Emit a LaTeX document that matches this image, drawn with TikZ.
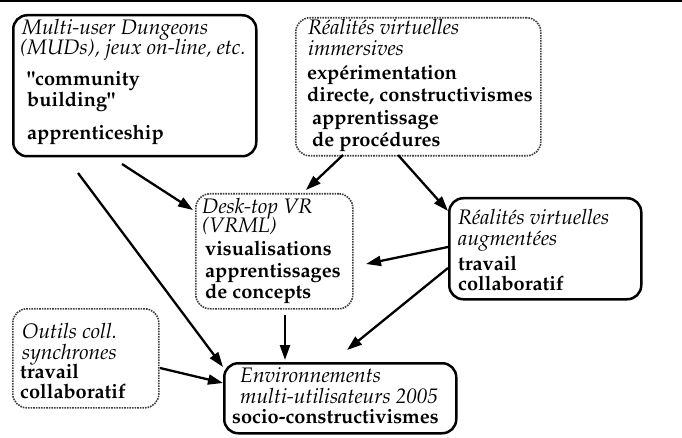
\documentclass[tikz,border=0pt]{standalone}
\usepackage[T1]{fontenc}
\usepackage{mathpazo}
\usetikzlibrary{arrows.meta}
\begin{document}
\begin{tikzpicture}[x=1pt,y=-1pt,
 solidbox/.style={draw, line width=2.5pt, rounded corners=14pt, anchor=north west, inner sep=0pt},
 dotbox/.style={draw=black!75, line width=1.6pt, densely dotted, rounded corners=14pt, anchor=north west, inner sep=0pt},
 ti/.style={anchor=base west, inner sep=0pt, font=\fontsize{21}{24}\selectfont\itshape},
 bo/.style={anchor=base west, inner sep=0pt, font=\fontsize{20}{24}\selectfont\bfseries},
 conn/.style={line width=2.3pt, -{Triangle[length=15pt,width=10pt]}}
]
\useasboundingbox (0,0) rectangle (682,438);
\coordinate (tl) at (0,1);
\coordinate (tr) at (682,1);
\draw[line width=2pt] (tl) -- (tr);

% boxes
\node[solidbox, minimum width=243pt, minimum height=141pt] (mud) at (12,14) {};
\node[dotbox, minimum width=245pt, minimum height=138pt] (imm) at (295,17) {};
\node[dotbox, minimum width=157pt, minimum height=115pt] (desk) at (195,193) {};
\node[solidbox, minimum width=192pt, minimum height=101pt] (aug) at (448,197) {};
\node[dotbox, minimum width=146pt, minimum height=99pt] (outil) at (12,308) {};
\node[solidbox, minimum width=232pt, minimum height=70pt] (env) at (223,362) {};

% texts
\node[ti] (m1) at (22,35) {Multi-user Dungeons};
\node[ti] (m2) at (20,55) {(MUDs), jeux on-line, etc.};
\node[bo] (m3) at (27,86) {"community};
\node[bo] (m4) at (27,107) {building"};
\node[bo] (m5) at (27,140) {apprenticeship};

\node[ti] (i1) at (308,35) {Réalités virtuelles};
\node[ti] (i2) at (308,56) {immersives};
\node[bo] (i3) at (307,80) {expérimentation};
\node[bo] (i4) at (307,102) {directe, constructivismes};
\node[bo] (i5) at (312,125) {apprentissage};
\node[bo] (i6) at (312,147) {de procédures};

\node[ti] (d1) at (202,214) {Desk-top VR};
\node[ti] (d2) at (202,233) {(VRML)};
\node[bo] (d3) at (205,255) {visualisations};
\node[bo] (d4) at (205,277) {apprentissages};
\node[bo] (d5) at (205,298) {de concepts};

\node[ti] (a1) at (458,225) {Réalités virtuelles};
\node[ti] (a2) at (458,245) {augmentées};
\node[bo] (a3) at (458,270) {travail};
\node[bo] (a4) at (458,290) {collaboratif};

\node[ti] (o1) at (22,338) {Outils coll.};
\node[ti] (o2) at (22,359) {synchrones};
\node[bo] (o3) at (20,378) {travail};
\node[bo] (o4) at (20,398) {collaboratif};

\node[ti] (e1) at (240,382) {Environnements};
\node[ti] (e2) at (240,403) {multi-utilisateurs 2005};
\node[bo] (e3) at (232,423) {socio-constructivismes};

% connector ends
\coordinate (s1) at (78,173);   \coordinate (t1) at (223,367);
\coordinate (s2) at (122,164);  \coordinate (t2) at (193,210);
\coordinate (s3) at (343,155);  \coordinate (t3) at (306,190);
\coordinate (s4) at (398,155);  \coordinate (t4) at (448,211);
\coordinate (s5) at (448,247);  \coordinate (t5) at (366,264);
\coordinate (s6) at (448,268);  \coordinate (t6) at (347,350);
\coordinate (s7) at (285,315);  \coordinate (t7) at (285,360);
\coordinate (s8) at (160,368);  \coordinate (t8) at (223,383);

\draw[conn] (s1) -- (t1);
\draw[conn] (s2) -- (t2);
\draw[conn] (s3) -- (t3);
\draw[conn] (s4) -- (t4);
\draw[conn] (s5) -- (t5);
\draw[conn] (s6) -- (t6);
\draw[conn] (s7) -- (t7);
\draw[conn] (s8) -- (t8);
\end{tikzpicture}
\end{document}
